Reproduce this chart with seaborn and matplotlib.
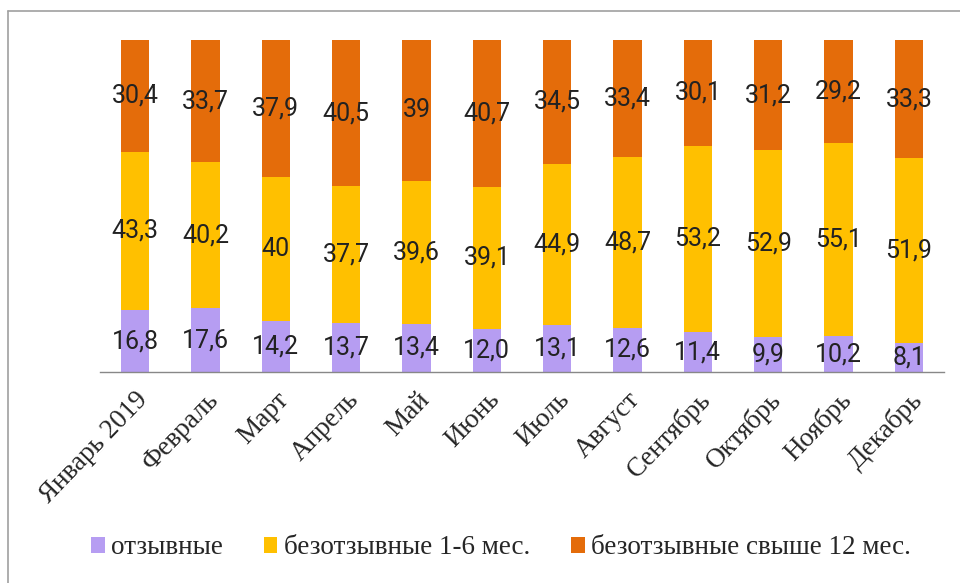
import numpy as np
import pandas as pd
import matplotlib
matplotlib.use("Agg")
import matplotlib.pyplot as plt
import seaborn as sns
from matplotlib.lines import Line2D
from matplotlib.patches import Patch

months = ['Январь 2019', 'Февраль', 'Март', 'Апрель', 'Май', 'Июнь',
          'Июль', 'Август', 'Сентябрь', 'Октябрь', 'Ноябрь', 'Декабрь']

# подписи как на исходной картинке (с запятой)
otzyv = ['16,8', '17,6', '14,2', '13,7', '13,4', '12,0',
         '13,1', '12,6', '11,4', '9,9', '10,2', '8,1']
bezotzyv_1_6 = ['43,3', '40,2', '40', '37,7', '39,6', '39,1',
                '44,9', '48,7', '53,2', '52,9', '55,1', '51,9']
bezotzyv_12 = ['30,4', '33,7', '37,9', '40,5', '39', '40,7',
               '34,5', '33,4', '30,1', '31,2', '29,2', '33,3']

series_names = ['отзывные', 'безотзывные 1-6 мес.', 'безотзывные свыше 12 мес.']
colors = ['#B69DF2', '#FFC000', '#E46C0A']


def to_num(lst):
    return np.array([float(s.replace(',', '.')) for s in lst])


a = to_num(otzyv)
b = to_num(bezotzyv_1_6)
c = to_num(bezotzyv_12)
total = a + b + c
# нормировка до 100%
pa = a / total * 100
pb = b / total * 100
pc = c / total * 100

df = pd.DataFrame({'month': months, 'l1': pa, 'l2': pa + pb, 'l3': pa + pb + pc})

sns.set_style("white")
fig = plt.figure(figsize=(9.6, 5.83), dpi=100)
ax = fig.add_axes([100 / 960, 1 - 372 / 583, 844 / 960, 332 / 583])

# накопленные слои, сверху вниз
for col, key in zip([colors[2], colors[1], colors[0]], ['l3', 'l2', 'l1']):
    sns.barplot(data=df, x='month', y=key, color=col, width=0.4,
                saturation=1, linewidth=0, edgecolor='none', ax=ax)

ax.set_xlim(-0.5, len(months) - 0.5)
ax.set_ylim(0, 100)
ax.set_xlabel('')
ax.set_ylabel('')
ax.set_yticks([])
for s in ['top', 'right', 'left']:
    ax.spines[s].set_visible(False)
ax.spines['bottom'].set_color('#888888')
ax.spines['bottom'].set_linewidth(1.0)

ax.set_xticks(np.arange(len(months)))
ax.set_xticks(np.arange(len(months) + 1) - 0.5, minor=True)
ax.tick_params(axis='x', which='major', length=0, pad=11)
ax.tick_params(axis='x', which='minor', length=6, color='#888888', width=1.0)
ax.set_xticklabels(months, rotation=46, ha='right', rotation_mode='anchor',
                   fontfamily='Liberation Serif', fontsize=19.5)

# подписи значений по центру сегментов
lab_font = dict(fontfamily='Roboto', fontsize=18, color='#222222',
                ha='center', va='center')
for i in range(len(months)):
    ax.text(i, pa[i] / 2, otzyv[i], **lab_font)
    ax.text(i, pa[i] + pb[i] / 2, bezotzyv_1_6[i], **lab_font)
    ax.text(i, pa[i] + pb[i] + pc[i] / 2, bezotzyv_12[i], **lab_font)

handles = [Patch(facecolor=col, edgecolor='none') for col in colors]
fig.legend(handles, series_names, loc='center', bbox_to_anchor=(0.522, 1 - 548 / 583),
           ncol=3, frameon=False, handlelength=0.5, handleheight=0.5,
           handletextpad=0.25, columnspacing=1.5,
           prop={'family': 'Liberation Serif', 'size': 19.5})

# рамка диаграммы (видны только левая и верхняя линии)
fig.add_artist(Line2D([8 / 960, 8 / 960], [0, 1 - 11 / 583], color='#A0A0A0', lw=1.2))
fig.add_artist(Line2D([8 / 960, 1], [1 - 11 / 583, 1 - 11 / 583], color='#A0A0A0', lw=1.2))

fig.savefig('out.png', dpi=100)
